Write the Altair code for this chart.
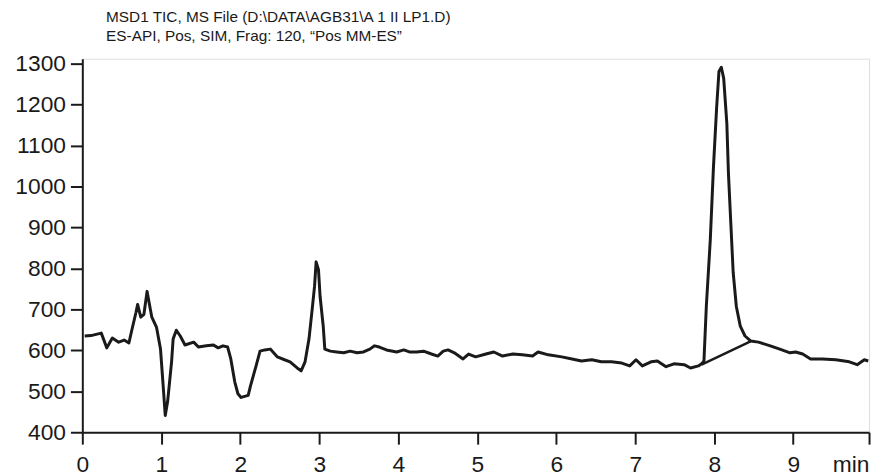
import altair as alt
import pandas as pd

# Retention time (min) and TIC signal
time_min = [0.03, 0.11, 0.24, 0.31, 0.38, 0.46, 0.53, 0.59, 0.63, 0.68, 0.70, 0.74, 0.78, 0.82,
            0.85, 0.88, 0.94, 0.99, 1.02, 1.05, 1.08, 1.13, 1.15, 1.19, 1.24, 1.30, 1.41, 1.47,
            1.57, 1.66, 1.72, 1.78, 1.84, 1.88, 1.93, 1.97, 2.01, 2.10, 2.13, 2.20, 2.25, 2.31,
            2.38, 2.47, 2.56, 2.63, 2.72, 2.77, 2.82, 2.87, 2.91, 2.94, 2.96, 2.99, 3.01, 3.05,
            3.07, 3.14, 3.22, 3.31, 3.39, 3.48, 3.56, 3.64, 3.70, 3.76, 3.85, 3.98, 4.07, 4.14,
            4.23, 4.32, 4.42, 4.50, 4.57, 4.63, 4.71, 4.82, 4.89, 4.98, 5.11, 5.21, 5.32, 5.45,
            5.57, 5.70, 5.77, 5.90, 6.07, 6.20, 6.32, 6.45, 6.57, 6.70, 6.83, 6.93, 7.01, 7.09,
            7.20, 7.28, 7.39, 7.49, 7.62, 7.70, 7.80, 7.84, 7.87, 7.90, 7.95, 7.99, 8.03, 8.06,
            8.09, 8.12, 8.16, 8.18, 8.21, 8.24, 8.28, 8.33, 8.39, 8.46, 8.56, 8.71, 8.83, 8.96,
            9.03, 9.12, 9.22, 9.37, 9.54, 9.71, 9.81, 9.90, 9.95]
signal = [635, 636, 642, 606, 630, 620, 625, 618, 652, 693, 712, 681, 688, 744,
          712, 681, 656, 603, 523, 441, 475, 572, 628, 649, 635, 613, 620, 608,
          611, 613, 606, 611, 608, 579, 523, 494, 485, 490, 514, 562, 598, 601,
          603, 584, 577, 572, 557, 550, 572, 628, 700, 756, 816, 797, 732, 659,
          603, 598, 596, 594, 598, 594, 596, 603, 611, 608, 601, 596, 601, 596,
          596, 598, 591, 586, 598, 601, 594, 579, 591, 584, 591, 596, 586, 591,
          589, 586, 596, 589, 584, 579, 574, 577, 572, 572, 569, 562, 577, 562,
          572, 574, 560, 567, 565, 557, 562, 567, 574, 707, 869, 1046, 1191, 1281,
          1291, 1264, 1153, 1032, 911, 790, 707, 659, 635, 623, 620, 611, 603, 594,
          596, 591, 579, 579, 577, 572, 565, 577, 574]

# Integration baseline under the peak at ~8.1 min
base_time = [7.84, 8.46]
base_signal = [565, 622]

x_ticks = [0, 1, 2, 3, 4, 5, 6, 7, 8, 9, 9.96]
y_ticks = [400, 500, 600, 700, 800, 900, 1000, 1100, 1200, 1300]
title_lines = ["MSD1 TIC, MS File (D:\\DATA\\AGB31\\A 1 II LP1.D)",
               "ES-API, Pos, SIM, Frag: 120, \u201cPos MM-ES\u201d"]

df = pd.DataFrame({"t": time_min, "v": signal})
df_base = pd.DataFrame({"t": base_time, "v": base_signal})

FONT = "Liberation Sans"
INK = "#1a1a1a"

x_scale = alt.Scale(domain=[0, 9.96], nice=False, zero=False)
y_scale = alt.Scale(domain=[400, 1312], nice=False, zero=False)

x_axis = alt.Axis(
    values=x_ticks, title=None, grid=False,
    labelExpr="datum.value > 9.5 ? 'min' : format(datum.value, 'd')",
    labelAlign={"condition": {"test": "datum.value > 9.5", "value": "right"}, "value": "center"},
    labelFont=FONT, labelFontSize=23, labelColor=INK, labelPadding=10,
    labelOverlap=False, labelSeparation=0, labelFlush=False, labelBound=False,
    tickSize=12, tickWidth=2, tickColor=INK, domainColor=INK, domainWidth=2,
)
y_axis = alt.Axis(
    values=y_ticks, title=None, grid=False, format="d",
    labelFont=FONT, labelFontSize=23, labelColor=INK, labelPadding=5,
    labelOverlap=False, labelFlush=False,
    tickSize=12, tickWidth=2, tickColor=INK, domainColor=INK, domainWidth=2,
)

signal_line = alt.Chart(df).mark_line(color=INK, strokeWidth=3, strokeJoin="round").encode(
    x=alt.X("t:Q", scale=x_scale, axis=x_axis),
    y=alt.Y("v:Q", scale=y_scale, axis=y_axis),
    order="t:Q",
)
base_line = alt.Chart(df_base).mark_line(color=INK, strokeWidth=2.4).encode(
    x=alt.X("t:Q", scale=x_scale),
    y=alt.Y("v:Q", scale=y_scale),
)

chart = alt.layer(signal_line, base_line).properties(
    width=794,
    height=377,
    title=alt.TitleParams(
        text=title_lines, anchor="start", frame="group", dx=24, offset=8,
        font=FONT, fontSize=15.5, fontWeight="normal", color=INK, lineHeight=19,
    ),
    autosize=alt.AutoSizeParams(type="none"),
    padding={"left": 75, "top": 49, "right": 4, "bottom": 44},
).configure_view(stroke=None).configure(background="white")

chart.save("out.html", embed_options={"renderer": "svg", "actions": False})
